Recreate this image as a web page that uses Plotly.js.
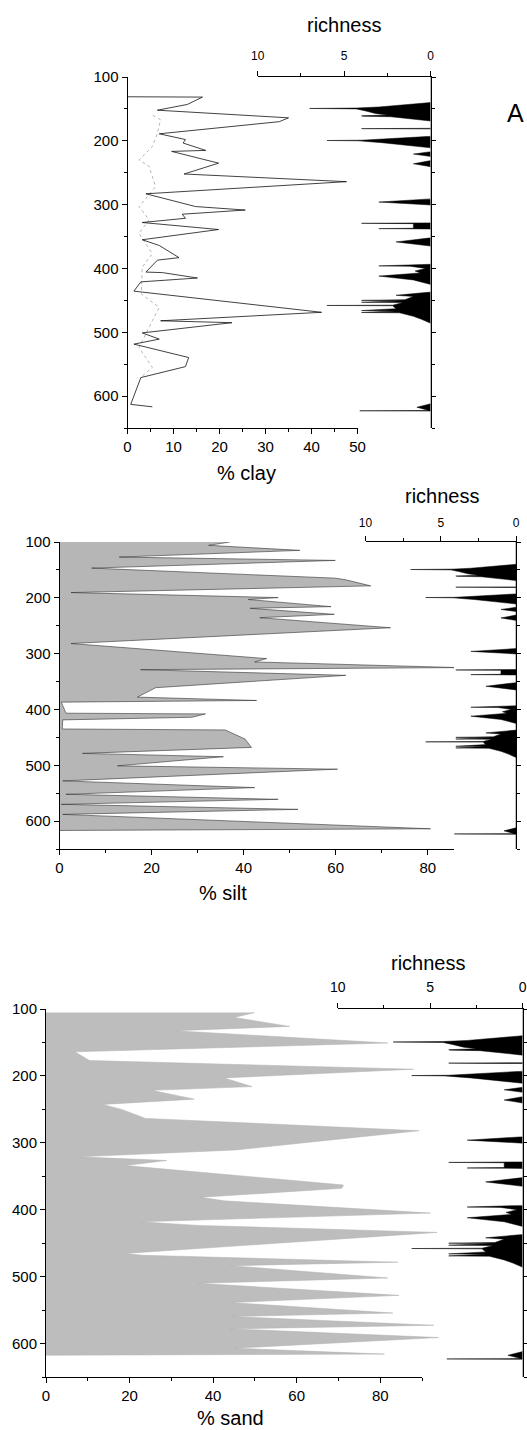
<!DOCTYPE html>
<html>
<head>
<meta charset="utf-8">
<script src="https://cdn.plot.ly/plotly-3.0.1.min.js"></script>
<style>
  html, body { margin: 0; padding: 0; background: #fff; }
  #chart { width: 527px; height: 1430px; }
</style>
</head>
<body>
<div id="chart"></div>
<script>
// ---------------- DATA ----------------
// Clay (% clay vs depth)
const clayDepth = [131, 131.5, 143, 152, 164, 170, 189, 198, 203.5, 215, 216.6, 235, 252, 264, 283, 303, 308.5, 315, 321.4, 328, 339, 355, 364, 383, 387, 405.7, 406.5, 415, 421, 435.6, 468.7, 482, 485, 501, 510.7, 518.6, 539.6, 553.8, 571, 613, 616.8];
const clayPct   = [0, 16.3, 13, 6.5, 35, 33, 6.9, 12.6, 12.1, 17, 9.6, 19.8, 12.3, 47.6, 4, 14.8, 25.6, 11.9, 12.6, 3.2, 19.8, 3.2, 6.9, 11.2, 6.5, 4, 7.6, 15.2, 2.9, 1.4, 42.2, 7.2, 22.7, 3.2, 6.9, 1.4, 13.3, 12.6, 2.9, 0.7, 5.4];

// faint dotted clay series
const clayDotDepth = [160, 167, 188, 209, 230, 240, 272, 303, 324, 345, 377, 398, 440, 461, 482, 524, 540, 555, 570];
const clayDotPct   = [5.5, 7.2, 6.5, 5.4, 2.5, 4.7, 6.1, 2.5, 4.7, 2.5, 5.4, 3.2, 3.0, 6.9, 5.4, 2.5, 4.0, 5.4, 3.0];

// Silt
const siltDepth = [100, 106, 115, 127, 133, 146.8, 164.8, 167.8, 178.6, 190.6, 199.6, 203, 215.8, 218.8, 229.6, 235.6, 253.6, 281.9, 308.9, 314.9, 325, 328.7, 338.9, 361, 377.9, 383.9, 386.9, 406.7, 408, 414, 418.7, 435, 436.7, 453, 468, 478.7, 484.7, 501, 507, 528, 540, 552, 561, 570, 579, 588, 613.8, 616.8];
const siltPct   = [37, 32.4, 52.2, 13, 59.9, 7, 60, 62.2, 67.6, 2.5, 47.5, 41, 59, 41.4, 59.7, 43.5, 71.9, 2.5, 45, 42.4, 86.7, 17.6, 62.2, 20.9, 16.9, 42.8, 0.4, 1.4, 31.7, 28.8, 0.7, 0.6, 36, 40.3, 41.7, 5, 35.6, 12.6, 60.4, 0.7, 42.4, 1.4, 47.5, 0.4, 51.8, 0.7, 80.6, 0];

// Sand
const sandDepth = [105.2, 112.6, 126, 132.5, 150.8, 164, 177, 190, 203, 216, 221.6, 234.7, 242.6, 250.4, 263.5, 281.9, 310.7, 321, 326.4, 334, 363, 368, 381.4, 386.7, 405, 418, 423.4, 433.9, 465.3, 468, 478.4, 483.6, 502, 509.9, 528, 538.7, 554.4, 559.6, 572.7, 578, 591, 607, 615.8, 617.5];
const sandPct   = [50, 45, 58.3, 30.8, 81.8, 6.9, 10.4, 88, 42.6, 49.3, 25.3, 35.5, 13.6, 18.3, 23.8, 89.3, 45.3, 7.7, 28.9, 19, 71.2, 70.8, 37, 42.6, 92, 22.6, 36.3, 93.6, 19, 23, 84.2, 44.2, 81.8, 36.3, 84.5, 44.2, 83, 44.2, 92.8, 44.2, 94, 45, 81, 0];

// Richness (same profile in all three panels)
const richDepth = [100, 140, 147, 148.6, 149.3, 150, 153, 157, 159.5, 160.8, 161.5, 162.3, 165, 169, 180.4, 180.9, 181.4, 193, 197, 199, 199.5, 200, 203, 207, 211, 217, 220.8, 224.5, 231, 236, 240.5, 291, 296, 300.5, 328.5, 329.3, 329.8, 337, 337.6, 338.2, 352, 358.4, 365, 393.5, 396, 396.5, 400, 404, 407, 412, 418, 425, 437, 442, 444, 449, 450, 450.5, 453, 453.5, 457.5, 458, 458.5, 463, 466, 466.5, 469, 469.5, 475, 480, 486, 612, 617.5, 622.5, 623, 623.5, 650];
const richness  = [0, 0, 3.0, 4.3, 7.0, 4.3, 3.8, 3.2, 2.5, 4.0, 3.9, 2.3, 1.5, 0, 0, 4.0, 0, 0, 2.5, 4.0, 6.0, 4.2, 2.8, 1.2, 0, 0, 1.0, 0, 0, 1.0, 0, 0, 3.0, 0, 0, 4.0, 1.0, 1.0, 3.0, 0, 0, 2.0, 0, 0, 3.0, 1.2, 0.3, 0.9, 0.6, 3.0, 1.0, 0, 0, 2.0, 1.0, 1.5, 4.0, 1.5, 4.0, 1.6, 2.2, 6.0, 2.2, 2.0, 4.0, 2.0, 4.0, 1.8, 1.0, 0.5, 0, 0, 0.8, 0.1, 4.1, 0, 0];

// Tick labels / titles
const depthTicks = [100, 200, 300, 400, 500, 600];
const richTicks = [10, 5, 0];
const titles = { clay: '% clay', silt: '% silt', sand: '% sand', rich: 'richness', panel: 'A' };

// ---------------- LAYOUT HELPERS ----------------
const W = 527, H = 1430;
const px = v => v / W;
const py = v => 1 - v / H;
const FONT = 'Liberation Sans, Arial, Helvetica, sans-serif';

function baseAxis(extra) {
  return Object.assign({
    showgrid: false, zeroline: false, showline: true, linecolor: '#000', linewidth: 1,
    ticks: 'outside', ticklen: 5, tickwidth: 1, tickcolor: '#000',
    tickfont: { family: FONT, size: 15, color: '#000' }, fixedrange: true
  }, extra);
}
function depthAxis(top, bottom, anchor, side, labels) {
  return baseAxis({
    domain: [py(bottom), py(top)], range: [650, 100], anchor: anchor, side: side,
    tickmode: 'array', tickvals: depthTicks, ticktext: depthTicks.map(String),
    showticklabels: labels, ticklen: labels ? 5 : 4,
    minor: { ticks: 'outside', dtick: 50, tick0: 100, ticklen: 3, tickcolor: '#000', showgrid: false }
  });
}
function pctAxis(l, r, maxv, dt, anchor) {
  return baseAxis({
    domain: [px(l), px(r)], range: [0, maxv], anchor: anchor, side: 'bottom',
    dtick: dt, tick0: 0,
    minor: { ticks: 'outside', dtick: dt / 2, ticklen: 3, tickcolor: '#000', showgrid: false }
  });
}
function richAxis(l, r, anchor, fsize, standoff) {
  return baseAxis({
    domain: [px(l), px(r)], range: [10, 0], anchor: anchor, side: 'top',
    tickmode: 'array', tickvals: richTicks, ticktext: richTicks.map(String),
    tickfont: { family: FONT, size: fsize, color: '#000' }, ticklabelstandoff: standoff,
    minor: { ticks: 'outside', dtick: 2.5, tick0: 0, ticklen: 3, tickcolor: '#000', showgrid: false }
  });
}
function ann(text, x, y, size) {
  return { text: text, x: px(x), y: py(y), xref: 'paper', yref: 'paper', showarrow: false,
           xanchor: 'center', yanchor: 'middle', font: { family: FONT, size: size, color: '#000' } };
}

// ---------------- TRACES ----------------
const richStyle = { mode: 'lines', fill: 'tozerox', fillcolor: '#000', line: { color: '#000', width: 0.5 }, hoverinfo: 'skip', showlegend: false };
const traces = [
  { x: clayDotPct, y: clayDotDepth, xaxis: 'x', yaxis: 'y', mode: 'lines', line: { color: '#b4b4b4', width: 1, dash: 'dot' }, hoverinfo: 'skip', showlegend: false },
  { x: clayPct, y: clayDepth, xaxis: 'x', yaxis: 'y', mode: 'lines', line: { color: '#111', width: 0.8 }, hoverinfo: 'skip', showlegend: false },
  Object.assign({ x: richness, y: richDepth, xaxis: 'x2', yaxis: 'y2' }, richStyle),
  { x: siltPct, y: siltDepth, xaxis: 'x3', yaxis: 'y3', mode: 'lines', fill: 'tozerox', fillcolor: '#b6b6b6', line: { color: '#333', width: 0.6 }, hoverinfo: 'skip', showlegend: false },
  Object.assign({ x: richness, y: richDepth, xaxis: 'x4', yaxis: 'y4' }, richStyle),
  { x: sandPct, y: sandDepth, xaxis: 'x5', yaxis: 'y5', mode: 'lines', fill: 'tozerox', fillcolor: '#bdbdbd', line: { color: '#b0b0b0', width: 0.5 }, hoverinfo: 'skip', showlegend: false },
  Object.assign({ x: richness, y: richDepth, xaxis: 'x6', yaxis: 'y6' }, richStyle),
  { x: [], y: [], xaxis: 'x7', yaxis: 'y7', mode: 'lines', hoverinfo: 'skip', showlegend: false }
];

// ---------------- LAYOUT ----------------
const SAND_L = 46, SAND_PX_PER = 4.178;
const layout = {
  width: W, height: H, margin: { l: 0, r: 0, t: 0, b: 0 },
  paper_bgcolor: '#fff', plot_bgcolor: 'rgba(0,0,0,0)', showlegend: false, hovermode: false,
  font: { family: FONT, color: '#000' },
  // clay panel
  xaxis:  pctAxis(127.5, 357.5, 50, 10, 'y'),
  yaxis:  depthAxis(77, 428, 'x', 'left', true),
  xaxis2: richAxis(257.7, 430.7, 'y2', 12, 6),
  yaxis2: depthAxis(77, 428, 'x2', 'right', false),
  // silt panel
  xaxis3: pctAxis(59.5, 454, 85.7, 20, 'y3'),
  yaxis3: depthAxis(542, 849, 'x3', 'left', true),
  xaxis4: richAxis(365.5, 516, 'y4', 12, 4),
  yaxis4: depthAxis(542, 849, 'x4', 'right', false),
  // sand panel (data axes extend past the drawn axis so long spikes are not clipped)
  xaxis5: { domain: [px(SAND_L), px(SAND_L + 100 * SAND_PX_PER)], range: [0, 100], anchor: 'y5', visible: false, fixedrange: true },
  yaxis5: { domain: [py(1377), py(1009)], range: [650, 100], anchor: 'x5', visible: false, fixedrange: true },
  xaxis6: richAxis(337.7, 522.7, 'y6', 14, 5),
  yaxis6: depthAxis(1009, 1377, 'x6', 'right', false),
  xaxis7: pctAxis(SAND_L, SAND_L + 90 * SAND_PX_PER, 90, 20, 'y7'),
  yaxis7: depthAxis(1009, 1377, 'x7', 'left', true),
  annotations: [
    ann(titles.rich, 344, 25, 20),
    ann(titles.clay, 246, 473, 20),
    ann(titles.panel, 515, 113, 25),
    ann(titles.rich, 442, 496, 20),
    ann(titles.silt, 222.5, 893, 20),
    ann(titles.rich, 428, 963, 20),
    ann(titles.sand, 230, 1418, 20)
  ]
};

Plotly.newPlot('chart', traces, layout, { staticPlot: true, displayModeBar: false });
</script>
</body>
</html>
